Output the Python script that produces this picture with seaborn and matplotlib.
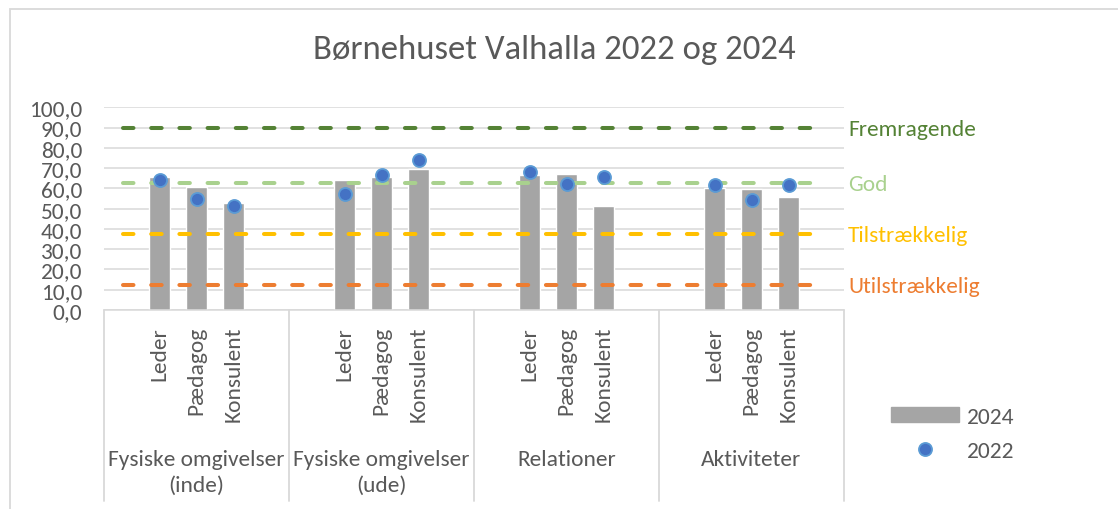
"""
Børnehuset Valhalla 2022 og 2024 - bars (2024) with dots (2022) and level lines
"""

import matplotlib.pyplot as plt
import matplotlib.transforms as mtransforms
from matplotlib.lines import Line2D
from matplotlib.patches import Patch, Rectangle
import pandas as pd
import seaborn as sns

sns.set_theme(style="white")
plt.rcParams["font.family"] = ["Carlito", "Lato", "DejaVu Sans"]

# ── data ────────────────────────────────────────────────────────────────────
title = "Børnehuset Valhalla 2022 og 2024"
groups = ["Fysiske omgivelser\n(inde)", "Fysiske omgivelser\n(ude)",
          "Relationer", "Aktiviteter"]
roles = ["Leder", "Pædagog", "Konsulent"]
v2024 = [65.6, 60.5, 52.8,
         64.1, 65.6, 69.7,
         66.6, 67.1, 51.3,
         60.2, 59.7, 55.7]
v2022 = [64.1, 54.6, 51.2,
         57.4, 66.4, 73.9,
         68.1, 62.0, 65.5,
         61.5, 54.3, 61.5]
level_names = ["Fremragende", "God", "Tilstrækkelig", "Utilstrækkelig"]
level_values = [90, 62.5, 37.5, 12.5]
level_colors = ["#548235", "#A9D18E", "#FFC000", "#ED7D31"]
yticks = list(range(0, 101, 10))

TXT = "#595959"
GRID = "#D9D9D9"
FS = 16.8

# each group: an empty slot on either side of the three roles
slots_per_group = len(roles) + 2
n_slots = slots_per_group * len(groups)
pos = [g * slots_per_group + 1 + r for g in range(len(groups)) for r in range(len(roles))]
df = pd.DataFrame({"pos": pos, "role": roles * len(groups),
                   "v2024": v2024, "v2022": v2022})

# ── figure ──────────────────────────────────────────────────────────────────
fig = plt.figure(figsize=(11.18, 5.10), dpi=100)
ax = fig.add_axes([104 / 1118, 1 - 311 / 510, 740 / 1118, 202.7 / 510])

sns.barplot(data=df, x="pos", y="v2024", native_scale=True, orient="x",
            color="#A5A5A5", saturation=1, width=0.57, ax=ax, zorder=2)
sns.scatterplot(data=df, x="pos", y="v2022", s=88, color="#4472C4",
                edgecolor="#5B9BD5", linewidth=1.3, ax=ax, zorder=4, legend=False)

for name, lvl, col in zip(level_names, level_values, level_colors):
    ax.plot([0, n_slots - 1], [lvl, lvl], color=col, lw=2.9,
            dashes=(2.6, 4.4), dash_capstyle="round", zorder=3)
    ax.annotate(name, xy=(n_slots - 1, lvl), xytext=(16.2, -0.8),
                textcoords="offset points", ha="left", va="center",
                color=col, fontsize=FS, annotation_clip=False)

ax.set_xlim(-0.5, n_slots - 0.5)
ax.set_ylim(0, 100)
ax.set_yticks(yticks)
ax.set_yticklabels([f"{v:.1f}".replace(".", ",") for v in yticks])
ax.set_xticks(pos)
ax.set_xticklabels(df["role"], rotation=90)
ax.tick_params(axis="both", length=0, labelsize=FS, labelcolor=TXT)
ax.tick_params(axis="y", pad=15.8)
ax.tick_params(axis="x", pad=11.5)
ax.set_xlabel("")
ax.set_ylabel("")
ax.yaxis.grid(True, color=GRID, lw=1.1, zorder=0)
ax.set_axisbelow(True)
for side in ["top", "left", "right"]:
    ax.spines[side].set_visible(False)
ax.spines["bottom"].set_color(GRID)
ax.spines["bottom"].set_linewidth(1.1)

# group labels + separators under the category axis
trans = mtransforms.blended_transform_factory(ax.transData, ax.transAxes)
for g, name in enumerate(groups):
    ax.text(g * slots_per_group + (slots_per_group - 1) / 2, -0.685, name,
            transform=trans, ha="center", va="top", fontsize=FS, color=TXT,
            linespacing=1.35)
for g in range(len(groups) + 1):
    x = g * slots_per_group - 0.5
    ax.add_line(Line2D([x, x], [0, -0.942], transform=trans, color=GRID,
                       lw=1.3, clip_on=False))

# legend
handles = [Patch(color="#A5A5A5"),
           Line2D([], [], marker="o", ls="", markersize=9.4,
                  markerfacecolor="#4472C4", markeredgecolor="#5B9BD5", markeredgewidth=1.3)]
fig.legend(handles, ["2024", "2022"], loc="upper left",
           bbox_to_anchor=(891 / 1118, 1 - 408 / 510), frameon=False,
           fontsize=FS, labelcolor=TXT, handlelength=2.92, handleheight=0.6,
           handletextpad=0.34, labelspacing=0.6, borderpad=0, borderaxespad=0)

fig.text(554 / 1118, 1 - 50 / 510, title, ha="center", va="center",
         fontsize=25, color=TXT)

# chart border (cut off on the right and bottom)
fig.add_artist(Rectangle((10 / 1118, -0.05), 1.2, 1.05 - 10 / 510,
                         transform=fig.transFigure, fill=False,
                         edgecolor=GRID, lw=1.3))

fig.savefig("out.png", dpi=100)
